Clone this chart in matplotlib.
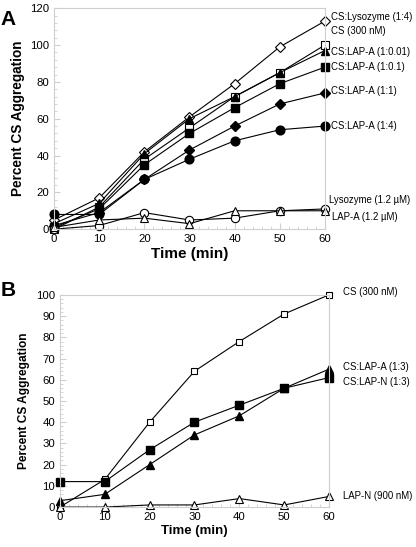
import numpy as np
import matplotlib.pyplot as plt
from matplotlib.ticker import MultipleLocator

plt.rcParams['font.family'] = ['Liberation Sans', 'DejaVu Sans']

# --- Datos panel A ---
tiempo = [0, 10, 20, 30, 40, 50, 60]
cs_lisozima_1_4 = [5, 17, 42, 61, 79, 99, 113]
cs_300 = [0, 12, 38, 55, 72, 85, 100]
cs_lapa_1_001 = [3, 14, 41, 60, 72, 85, 97]
cs_lapa_1_01 = [1, 11, 35, 52, 66, 79, 88]
cs_lapa_1_1 = [2, 9, 27, 43, 56, 68, 74]
cs_lapa_1_4 = [8, 8, 27, 38, 48, 54, 56]
lisozima_12 = [0, 2, 9, 5, 6, 10, 11]
lapa_12 = [1, 5, 6, 3, 10, 10, 10]

# --- Datos panel B ---
cs_300_b = [0, 13, 40, 64, 78, 91, 100]
cs_lapn_1_3 = [12, 12, 27, 40, 48, 56, 61]
cs_lapa_1_3 = [3, 6, 20, 34, 43, 56, 65]
lapn_900 = [0, 0, 1, 1, 4, 1, 5]

fig = plt.figure(figsize=(4.16, 5.47), dpi=100)
axA = fig.add_axes([0.130, 0.581, 0.651, 0.404])
axB = fig.add_axes([0.144, 0.073, 0.647, 0.388])

gris = '#cfcfcf'

def estilo(ax, ymax, ymayor, ymenor, fs_lab, fs_x):
    ax.set_xlim(0, 60)
    ax.set_ylim(0, ymax)
    ax.xaxis.set_major_locator(MultipleLocator(10))
    ax.xaxis.set_minor_locator(MultipleLocator(2))
    ax.yaxis.set_major_locator(MultipleLocator(ymayor))
    ax.yaxis.set_minor_locator(MultipleLocator(ymenor))
    for s in ax.spines.values():
        s.set_color(gris)
        s.set_linewidth(0.8)
    ax.tick_params(which='both', direction='in', color=gris, labelsize=8.2)
    ax.tick_params(which='major', length=4)
    ax.tick_params(which='minor', length=2.5)
    ax.set_ylabel('Percent CS Aggregation', fontweight='bold', fontsize=fs_lab)
    ax.set_xlabel('Time (min)', fontweight='bold', fontsize=fs_x, labelpad=2)

abierto = dict(markerfacecolor='white', markeredgecolor='black', markeredgewidth=0.8)
cerrado = dict(markerfacecolor='black', markeredgecolor='black')

# Panel A
axA.plot(tiempo, cs_lisozima_1_4, 'k-', lw=0.8, marker='D', ms=5, **abierto, clip_on=False)
axA.plot(tiempo, cs_300, 'k-', lw=0.8, marker='s', ms=6, **abierto, clip_on=False)
axA.plot(tiempo, cs_lapa_1_001, 'k-', lw=0.8, marker='^', ms=6, **cerrado, clip_on=False)
axA.plot(tiempo, cs_lapa_1_01, 'k-', lw=0.8, marker='s', ms=6, **cerrado, clip_on=False)
axA.plot(tiempo, cs_lapa_1_1, 'k-', lw=0.8, marker='D', ms=5, **cerrado, clip_on=False)
axA.plot(tiempo, cs_lapa_1_4, 'k-', lw=0.8, marker='o', ms=6.3, **cerrado, clip_on=False)
axA.plot(tiempo, lisozima_12, 'k-', lw=0.8, marker='o', ms=6, **abierto, clip_on=False)
axA.plot(tiempo, lapa_12, 'k-', lw=0.8, marker='^', ms=6, **abierto, clip_on=False)
estilo(axA, 120, 20, 4, 9.8, 11)

etiquetas_A = [('CS:Lysozyme (1:4)', 61.4, 115), ('CS (300 nM)', 61.4, 107.5),
               ('CS:LAP-A (1:0.01)', 61.4, 96), ('CS:LAP-A (1:0.1)', 61.4, 88),
               ('CS:LAP-A (1:1)', 61.4, 75), ('CS:LAP-A (1:4)', 61.4, 56),
               ('Lysozyme (1.2 µM)', 60.8, 16), ('LAP-A (1.2 µM)', 61.5, 6.5)]
for txt, x, y in etiquetas_A:
    axA.text(x, y, txt, fontsize=6.9, va='center', ha='left', clip_on=False)

# Panel B
axB.plot(tiempo, cs_300_b, 'k-', lw=0.8, marker='s', ms=4.5, **abierto, clip_on=False)
axB.plot(tiempo, cs_lapn_1_3, 'k-', lw=0.8, marker='s', ms=6, **cerrado, clip_on=False)
axB.plot(tiempo, cs_lapa_1_3, 'k-', lw=0.8, marker='^', ms=6, **cerrado, clip_on=False)
axB.plot(tiempo, lapn_900, 'k-', lw=0.8, marker='^', ms=6, **abierto, clip_on=False)
estilo(axB, 100, 10, 2, 8.6, 9.5)

etiquetas_B = [('CS (300 nM)', 63, 101.5), ('CS:LAP-A (1:3)', 63, 66),
               ('CS:LAP-N (1:3)', 63, 59), ('LAP-N (900 nM)', 63, 5)]
for txt, x, y in etiquetas_B:
    axB.text(x, y, txt, fontsize=6.9, va='center', ha='left', clip_on=False)

fig.text(0.002, 0.982, 'A', fontsize=15, fontweight='bold', va='top', ha='left')
fig.text(0.002, 0.487, 'B', fontsize=15, fontweight='bold', va='top', ha='left')

fig.savefig('out.png', dpi=100)
